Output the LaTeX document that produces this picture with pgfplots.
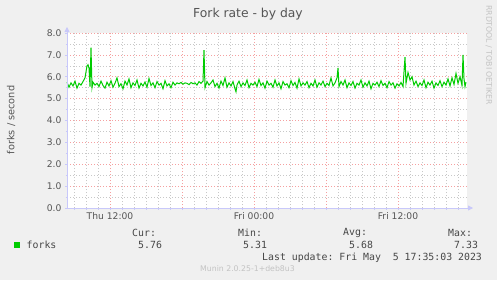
\documentclass[border=0pt]{standalone}
\usepackage{fontspec}
\setmainfont{DejaVu Sans}
\setmonofont{DejaVu Sans Mono}
\usepackage{pgfplots}
\pgfplotsset{compat=1.18}
\usepackage{pgfplotstable}
\usetikzlibrary{arrows.meta}
\definecolor{bgc}{RGB}{240,240,240}
\definecolor{txt}{RGB}{85,85,85}
\definecolor{legtxt}{RGB}{70,70,70}
\definecolor{gridred}{RGB}{245,160,160}
\definecolor{gridgray}{RGB}{200,200,200}
\definecolor{axblue}{RGB}{200,200,250}
\definecolor{forkgreen}{RGB}{0,204,0}
\definecolor{faint}{RGB}{195,195,195}
\pgfplotstableread{
x y
0 5.75
2 5.52
4 5.72
6 5.58
8 5.80
10 5.48
12 5.70
14 5.62
16 5.78
18 5.95
20 6.50
21 6.55
22 6.40
23 5.55
24 7.33
25 5.50
26 5.75
28 5.62
30 5.70
32 5.55
34 5.80
36 5.60
38 5.48
40 5.75
42 5.58
44 5.82
46 5.52
48 5.70
50 5.95
52 5.55
54 5.68
56 5.45
58 5.80
60 5.62
62 5.90
64 5.50
66 5.72
68 5.60
70 5.85
72 5.48
74 5.70
76 5.58
78 5.76
80 5.52
82 5.92
84 5.60
86 5.72
88 5.50
90 5.78
92 5.62
94 5.70
96 5.45
98 5.82
100 5.58
102 5.68
104 5.50
106 5.75
108 5.62
110 5.72
112 5.68
114 5.74
116 5.66
118 5.72
120 5.70
122 5.64
124 5.74
126 5.68
128 5.72
130 5.62
132 5.78
134 5.70
136 5.80
137 7.22
138 5.50
140 5.78
142 5.62
144 5.72
146 5.85
148 5.55
150 5.70
152 5.48
154 5.80
156 5.60
158 5.95
160 5.52
162 5.72
164 5.58
166 5.78
168 5.45
169 5.31
170 5.62
172 5.80
174 5.55
176 5.72
178 5.60
180 5.85
182 5.50
184 5.70
186 5.62
188 5.75
190 5.55
192 5.88
194 5.60
196 5.72
198 5.48
200 5.80
202 5.62
204 5.70
206 5.52
208 5.85
210 5.58
212 5.72
214 5.45
216 5.78
218 5.62
220 5.68
222 5.50
224 5.82
226 5.60
228 5.74
230 5.48
232 5.90
234 5.58
236 5.72
238 5.62
240 5.78
242 5.50
244 5.70
246 5.58
248 5.85
250 5.52
252 5.72
254 5.62
256 5.80
258 5.55
260 5.70
262 5.60
264 5.95
266 5.58
268 5.72
270 5.95
271 6.40
272 5.55
274 5.78
276 5.62
278 5.85
280 5.50
282 5.72
284 5.60
286 5.78
288 5.48
290 5.70
292 5.62
294 5.85
296 5.52
298 5.72
300 5.58
302 5.80
304 5.45
306 5.70
308 5.62
310 5.75
312 5.55
314 5.82
316 5.60
318 5.70
320 5.50
322 5.78
324 5.62
326 5.72
328 5.48
330 5.68
332 5.58
334 5.74
336 5.55
338 6.90
339 5.70
341 6.20
343 5.85
345 6.00
347 5.62
349 5.80
351 5.55
353 5.72
355 5.60
357 5.85
359 5.50
361 5.75
363 5.62
365 5.80
367 5.48
369 5.72
371 5.60
373 5.82
375 5.55
377 5.75
379 5.62
381 5.90
383 5.58
385 5.95
387 5.65
389 6.15
391 5.70
393 6.00
395 5.60
396 7.00
397 5.90
398 5.55
399 5.76
}\forkdata
\begin{document}
\begin{tikzpicture}[x=1bp,y=1bp]
\fill[bgc] (0,0) rectangle (497,280);
\useasboundingbox (0,0) rectangle (497,280);
\begin{axis}[
  at={(67bp,72bp)}, anchor=south west,
  scale only axis, width=400bp, height=175bp,
  xmin=0, xmax=400, ymin=0, ymax=8,
  axis background/.style={fill=white},
  axis line style={draw=none},
  xtick={43,115,187,259,331},
  xticklabels={Thu 12:00,,Fri 00:00,,Fri 12:00},
  minor xtick={7,19,31,55,67,79,91,103,127,139,151,163,175,199,211,223,235,247,271,283,295,307,319,343,355,367,379,391},
  ytick={0,1,2,3,4,5,6,7,8},
  yticklabels={0.0,1.0,2.0,3.0,4.0,5.0,6.0,7.0,8.0},
  minor ytick={0.5,1.5,2.5,3.5,4.5,5.5,6.5,7.5},
  grid=both,
  major grid style={gridred, line width=0.6bp, dash pattern=on 1bp off 2bp},
  minor grid style={gridgray, line width=0.6bp, dash pattern=on 1bp off 2bp},
  tick pos=left, tick align=outside,
  major tick length=2bp, minor tick length=1.5bp,
  tick style={axblue, line width=0.6bp},
  tick label style={font=\fontsize{9.2}{10}\selectfont, text=txt},
  xticklabel style={yshift=1bp},
  clip=false,
]
\addplot[forkgreen, line width=1bp, mark=none] table[x=x,y=y] {\forkdata};
\draw[axblue, line width=0.8bp, -{Triangle[length=5bp,width=5bp]}] (axis cs:0,0) -- ([xshift=6bp]axis cs:400,0);
\draw[axblue, line width=0.8bp, -{Triangle[length=5bp,width=5bp]}] (axis cs:0,0) -- ([yshift=6bp]axis cs:0,8);
\end{axis}
% title and side texts
\node[text=txt, font=\fontsize{12.4}{14}\selectfont] at (248,266) {Fork rate - by day};
\node[text=txt, rotate=90, font=\fontsize{9.8}{11}\selectfont] at (11,160) {forks / second};
\node[text=faint, rotate=-90, font=\fontsize{7.8}{9}\selectfont, anchor=west, inner sep=0] at (489,275) {RRDTOOL / TOBI OETIKER};
% legend
\fill[forkgreen] (14,32.5) rectangle (20,38.5);
\begin{scope}[every node/.style={anchor=west, inner sep=0, text=legtxt, font=\ttfamily\fontsize{9.9}{11}\selectfont}]
\node at (26.5,35) {forks};
\node at (132,47) {Cur:};
\node at (238,47) {Min:};
\node at (343,47) {Avg:};
\node at (448,47) {Max:};
\node at (138,35) {5.76};
\node at (243,35) {5.31};
\node at (349,35) {5.68};
\node at (454,35) {7.33};
\node at (262,22) {Last update: Fri May\ \ 5 17:35:03 2023};
\end{scope}
\node[text=faint, font=\fontsize{7.8}{9}\selectfont, anchor=west, inner sep=0] at (200,11) {Munin 2.0.25-1+deb8u3};
\end{tikzpicture}
\end{document}
